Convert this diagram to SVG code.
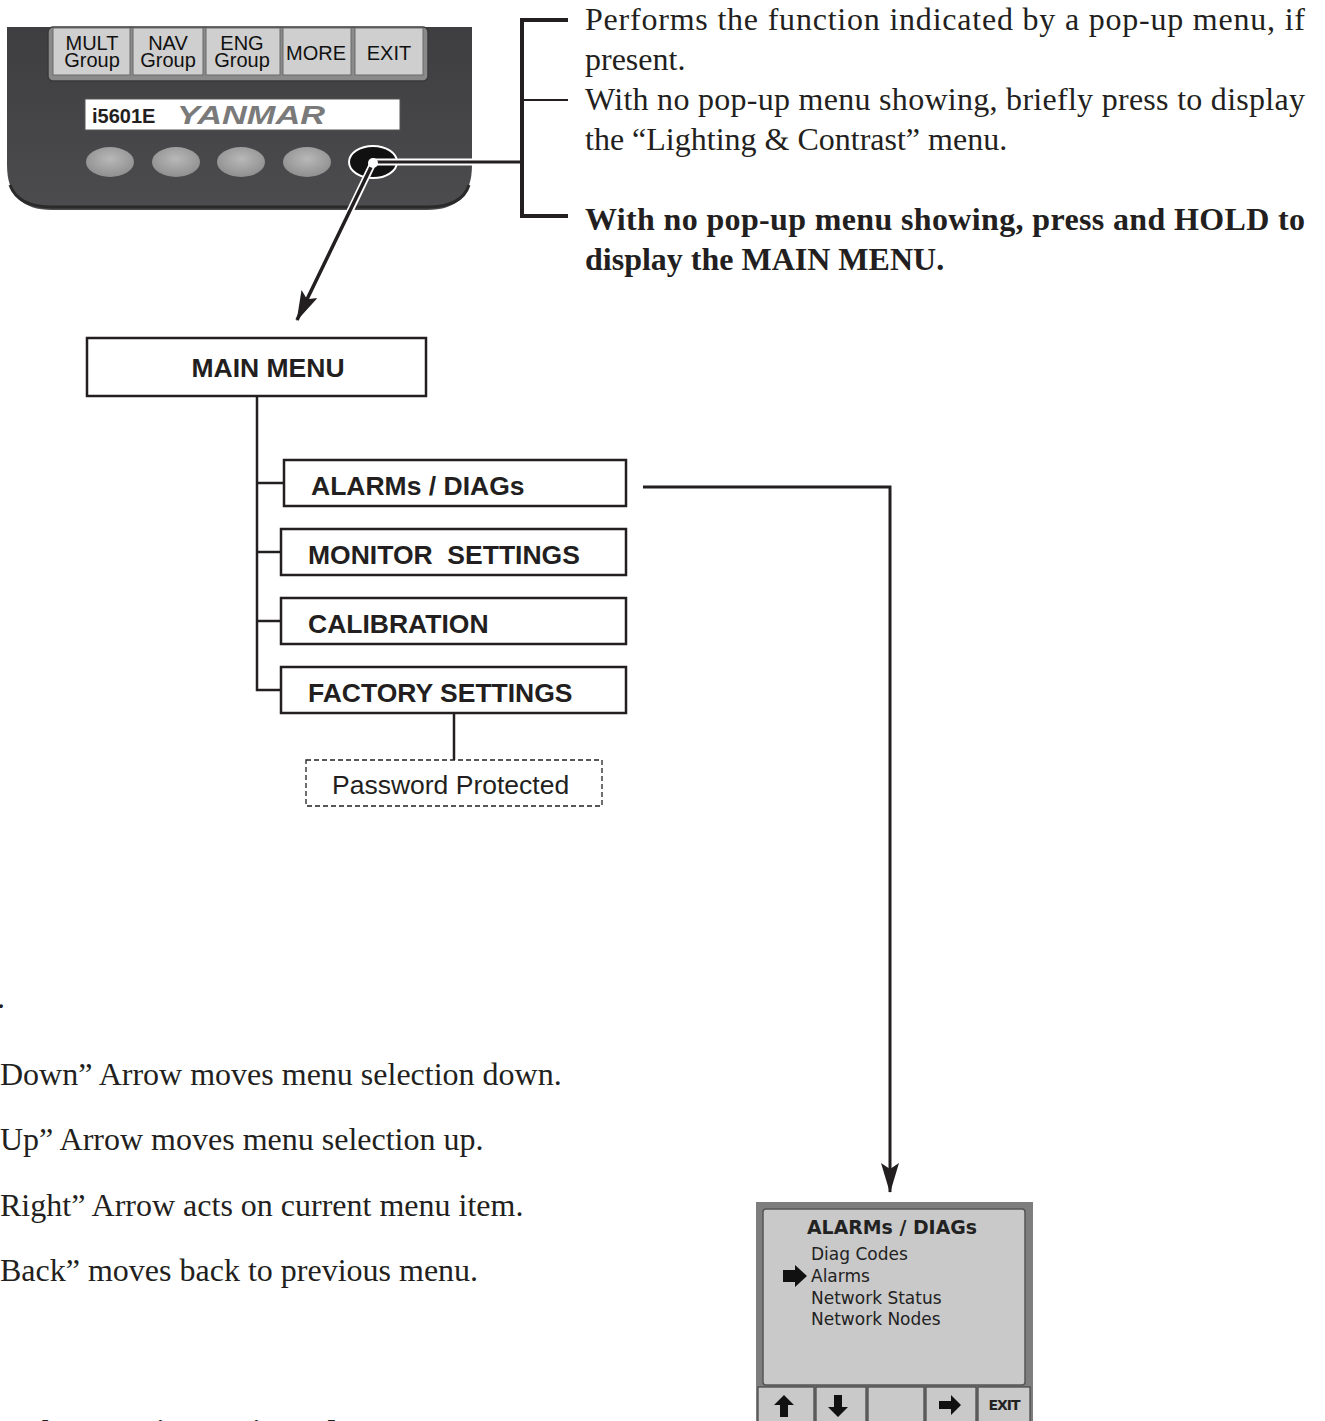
<svg xmlns="http://www.w3.org/2000/svg" width="1325" height="1421" viewBox="0 0 1325 1421">
  <style>
    .serif { font-family: "Liberation Serif", "Times New Roman", serif; font-size: 32px; fill: #231f20; }
    .bold { font-weight: bold; }
    .sans { font-family: "Liberation Sans", Arial, sans-serif; fill: #231f20; }
    .item { font-family: "Liberation Sans", Arial, sans-serif; font-weight: bold; font-size: 26.5px; fill: #231f20; }
    .box { fill: #fff; stroke: #231f20; stroke-width: 2.5; }
    .wire { fill: none; stroke: #231f20; stroke-width: 2.5; }
    .btnlbl { font-family: "Liberation Sans", Arial, sans-serif; font-size: 20px; fill: #111; }
    .lcd { font-family: "DejaVu Sans", sans-serif; fill: #222; }
  </style>
  <defs>
    <linearGradient id="body" x1="0" y1="0" x2="0" y2="1">
      <stop offset="0" stop-color="#3e3e40"/>
      <stop offset="1" stop-color="#4c4c4e"/>
    </linearGradient>
    <radialGradient id="key" cx="0.5" cy="0.4" r="0.6">
      <stop offset="0" stop-color="#b8b8b8"/>
      <stop offset="1" stop-color="#8f8f8f"/>
    </radialGradient>
    <marker id="arrow" viewBox="0 0 30 18" refX="29" refY="9" markerWidth="30" markerHeight="18" markerUnits="userSpaceOnUse" orient="auto">
      <path d="M0,0 L30,9 L0,18 L6,9 Z" fill="#231f20"/>
    </marker>
  </defs>

  <rect width="1325" height="1421" fill="#fff"/>

  <!-- display unit -->
  <g id="display-unit">
    <path d="M7,27 H472 V165 Q472,210 427,210 H52 Q7,210 7,165 Z" fill="url(#body)"/>
    <path d="M10,185 Q18,207 52,207 H427 Q462,207 469,185" fill="none" stroke="#2a2a2a" stroke-width="3"/>
    <!-- soft-key strip -->
    <rect x="48" y="27" width="380" height="54" rx="5" fill="#8a8a8a" stroke="#3a3a3a" stroke-width="1.5"/>
    <g fill="#cfcfcf" stroke="#6a6a6a" stroke-width="1">
      <rect x="53" y="28" width="77" height="47"/>
      <rect x="133" y="28" width="70" height="47"/>
      <rect x="206" y="28" width="74" height="47"/>
      <rect x="283" y="28" width="68" height="47"/>
      <rect x="355" y="28" width="68" height="47"/>
    </g>
    <g class="btnlbl" text-anchor="middle">
      <text x="92" y="50">MULT</text><text x="92" y="67">Group</text>
      <text x="168" y="50">NAV</text><text x="168" y="67">Group</text>
      <text x="242" y="50">ENG</text><text x="242" y="67">Group</text>
      <text x="316" y="60">MORE</text>
      <text x="389" y="60">EXIT</text>
    </g>
    <!-- model plate -->
    <rect x="85" y="99" width="315" height="31" fill="#fff" stroke="#555" stroke-width="1"/>
    <text x="92" y="123" class="sans bold" font-size="20">i5601E</text>
    <text x="177" y="124" font-family="Liberation Sans, Arial, sans-serif" font-weight="bold" font-style="italic" font-size="25" fill="#7a7a7a" textLength="148" lengthAdjust="spacingAndGlyphs">YANMAR</text>
    <!-- keys -->
    <ellipse cx="110" cy="162" rx="24" ry="15" fill="url(#key)"/>
    <ellipse cx="176" cy="162" rx="24" ry="15" fill="url(#key)"/>
    <ellipse cx="241" cy="162" rx="24" ry="15" fill="url(#key)"/>
    <ellipse cx="307" cy="162" rx="24" ry="15" fill="url(#key)"/>
    <ellipse cx="373" cy="162" rx="24" ry="16" fill="#111" stroke="#fff" stroke-width="2"/>
  </g>

  <!-- descriptions -->
  <g id="key-notes">
    <text class="serif" x="585" y="30" textLength="720" lengthAdjust="spacing">Performs the function indicated by a pop-up menu, if</text>
    <text class="serif" x="585" y="70">present.</text>
    <text class="serif" x="585" y="110" textLength="720" lengthAdjust="spacing">With no pop-up menu showing, briefly press to display</text>
    <text class="serif" x="585" y="150">the “Lighting &amp; Contrast” menu.</text>
    <text class="serif bold" x="585" y="230" textLength="720" lengthAdjust="spacing">With no pop-up menu showing, press and HOLD to</text>
    <text class="serif bold" x="585" y="270">display the MAIN MENU.</text>
  </g>

  <!-- menu nodes -->
  <g id="main-menu">
    <rect class="box" x="87" y="338" width="339" height="58"/>
    <text class="item" x="268" y="377" text-anchor="middle">MAIN MENU</text>
  </g>
  <g id="alarms-diags">
    <rect class="box" x="284" y="460" width="342" height="46"/>
    <text class="item" x="311" y="495">ALARMs / DIAGs</text>
  </g>
  <g id="monitor-settings">
    <rect class="box" x="281" y="529" width="345" height="46"/>
    <text class="item" x="308" y="564" xml:space="preserve">MONITOR  SETTINGS</text>
  </g>
  <g id="calibration">
    <rect class="box" x="281" y="598" width="345" height="46"/>
    <text class="item" x="308" y="633">CALIBRATION</text>
  </g>
  <g id="factory-settings">
    <rect class="box" x="281" y="667" width="345" height="46"/>
    <text class="item" x="308" y="702">FACTORY SETTINGS</text>
  </g>
  <g id="password-protected">
    <rect x="306" y="760" width="296" height="46" fill="#fff" stroke="#231f20" stroke-width="1.3" stroke-dasharray="5,3"/>
    <text class="sans" x="332" y="794" font-size="26.5">Password Protected</text>
  </g>

  <!-- connectors -->
  <g id="connectors">
    <!-- bracket from the fifth key -->
    <line x1="373" y1="162" x2="524" y2="162" stroke="#fff" stroke-width="7"/>
    <line x1="373" y1="162" x2="524" y2="162" stroke="#231f20" stroke-width="3"/>
    <path d="M568,20 H522 V216 H568" fill="none" stroke="#231f20" stroke-width="4"/>
    <line x1="522" y1="100" x2="568" y2="100" stroke="#231f20" stroke-width="2"/>
    <!-- key to MAIN MENU -->
    <line x1="373" y1="163" x2="305" y2="305" stroke="#fff" stroke-width="7"/>
    <line x1="373" y1="163" x2="297" y2="320" stroke="#231f20" stroke-width="3.5" marker-end="url(#arrow)"/>
    <circle cx="373" cy="163" r="5" fill="#fff"/>
    <!-- menu tree -->
    <path class="wire" d="M257,396 V690 H281"/>
    <line class="wire" x1="257" y1="483" x2="284" y2="483"/>
    <line class="wire" x1="257" y1="552" x2="281" y2="552"/>
    <line class="wire" x1="257" y1="621" x2="281" y2="621"/>
    <line class="wire" x1="454" y1="713" x2="454" y2="760"/>
    <!-- ALARMs / DIAGs to its screen -->
    <path d="M643,487 H890 V1192" fill="none" stroke="#231f20" stroke-width="3" marker-end="url(#arrow)"/>
  </g>

  <!-- ALARMs / DIAGs screen -->
  <g id="alarms-screen">
    <rect x="756" y="1202" width="277" height="225" fill="#7e7e7e"/>
    <rect x="763" y="1209" width="262" height="176" rx="3" fill="#c9c9c9" stroke="#555" stroke-width="1.5"/>
    <text class="lcd bold" x="807" y="1234" font-size="20" textLength="170" lengthAdjust="spacingAndGlyphs">ALARMs / DIAGs</text>
    <text class="lcd" x="811" y="1260" font-size="17">Diag Codes</text>
    <text class="lcd" x="811" y="1282" font-size="17">Alarms</text>
    <text class="lcd" x="811" y="1304" font-size="17">Network Status</text>
    <text class="lcd" x="811" y="1325" font-size="17">Network Nodes</text>
    <path d="M783,1270 H795 V1265 L807,1276 L795,1287 V1282 H783 Z" fill="#111"/>
    <g fill="#c9c9c9" stroke="#444" stroke-width="1.2">
      <rect x="758" y="1387" width="56" height="36"/>
      <rect x="816" y="1387" width="50" height="36"/>
      <rect x="868" y="1387" width="56" height="36"/>
      <rect x="926" y="1387" width="50" height="36"/>
      <rect x="978" y="1387" width="52" height="36"/>
    </g>
    <path d="M784,1395 L794,1405 H788 V1417 H780 V1405 H774 Z" fill="#111"/>
    <path d="M838,1417 L848,1407 H842 V1395 H834 V1407 H828 Z" fill="#111"/>
    <path d="M961,1405 L951,1395 V1401 H939 V1409 H951 V1415 Z" fill="#111"/>
    <text class="lcd bold" x="1004" y="1410" font-size="14" text-anchor="middle" letter-spacing="-1">EXIT</text>
  </g>

  <!-- arrow key notes -->
  <g id="arrow-notes">
    <text class="serif" x="-3" y="1008">.</text>
    <text class="serif" x="0" y="1085">Down” Arrow moves menu selection down.</text>
    <text class="serif" x="0" y="1150">Up” Arrow moves menu selection up.</text>
    <text class="serif" x="0" y="1216">Right” Arrow acts on current menu item.</text>
    <text class="serif" x="0" y="1281">Back” moves back to previous menu.</text>
    <text class="serif bold" x="18" y="1442" font-size="38" font-style="italic">Alarms /Diagnostic Codes</text>
  </g>
</svg>
